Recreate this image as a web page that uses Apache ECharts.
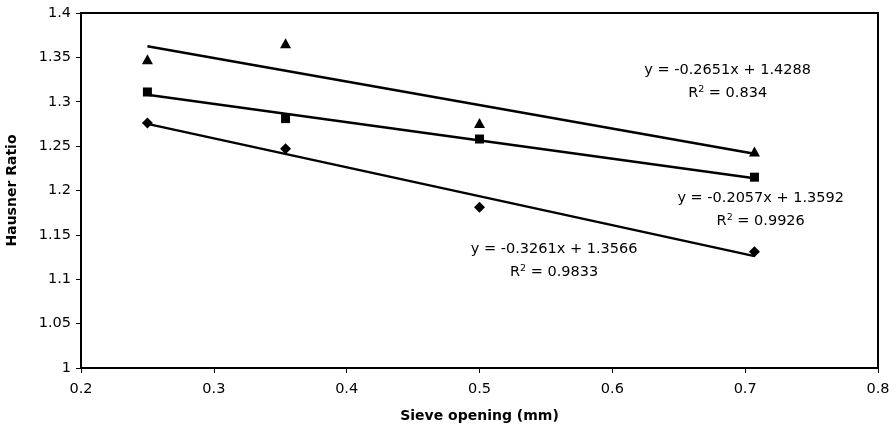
<!DOCTYPE html>
<html>
<head>
<meta charset="utf-8">
<script src="https://cdn.jsdelivr.net/npm/echarts@6/dist/echarts.min.js"></script>
<style>html,body{margin:0;padding:0;background:#fff;}#c{width:896px;height:433px;}</style>
</head>
<body>
<div id="c"></div>
<script>
// Data
var sieveOpenings = [0.25, 0.354, 0.5, 0.707];
var seriesTriangle = [1.348, 1.366, 1.276, 1.244];
var seriesSquare = [1.311, 1.281, 1.258, 1.215];
var seriesDiamond = [1.276, 1.247, 1.181, 1.131];
var trendSlopes = [-0.2651, -0.2057, -0.3261];
var trendIntercepts = [1.4288, 1.3592, 1.3566];
var trendR2 = ['0.834', '0.9926', '0.9833'];
var labelAnchorX = [0.6868, 0.7117, 0.5562];
var labelAnchorY = [1.322, 1.178, 1.121];
var xTicks = [0.2, 0.3, 0.4, 0.5, 0.6, 0.7, 0.8];
var yTicks = [1, 1.05, 1.1, 1.15, 1.2, 1.25, 1.3, 1.35, 1.4];

var FONT = 'DejaVu Sans';
function pts(vals) { return sieveOpenings.map(function (x, i) { return [x, vals[i]]; }); }
function trend(k) {
  var x0 = sieveOpenings[0], x1 = sieveOpenings[sieveOpenings.length - 1];
  return [[x0, trendSlopes[k] * x0 + trendIntercepts[k]], [x1, trendSlopes[k] * x1 + trendIntercepts[k]]];
}
function fmtNum(v) { return (v < 0 ? '-' : '') + Math.abs(v).toFixed(4); }
var labelData = labelAnchorX.map(function (x, k) {
  return { value: [x, labelAnchorY[k]], eq: 'y = ' + fmtNum(trendSlopes[k]) + 'x + ' + trendIntercepts[k].toFixed(4), r2: trendR2[k] };
});

var chart = echarts.init(document.getElementById('c'), null, { renderer: 'canvas' });
var lineStyle = { color: '#000', width: 2.5, opacity: 1 };
var markStyle = { color: '#000', opacity: 1 };
chart.setOption({
  animation: false,
  backgroundColor: '#fff',
  grid: { left: 81, right: 18, top: 13, bottom: 65, containLabel: false, outerBoundsMode: 'none', show: true, borderColor: '#000', borderWidth: 2, backgroundColor: 'transparent' },
  xAxis: {
    type: 'value', min: 0.2, max: 0.8, interval: 0.1,
    name: 'Sieve opening (mm)', nameLocation: 'middle', nameGap: 41,
    nameTextStyle: { fontFamily: FONT, fontWeight: 'bold', fontSize: 14, color: '#000' },
    axisLine: { show: true, lineStyle: { color: '#000', width: 2 } },
    axisTick: { show: true, inside: false, length: 5, lineStyle: { color: '#000', width: 1 } },
    axisLabel: { fontFamily: FONT, fontSize: 14.5, color: '#000', margin: 14, formatter: function (v) { return String(+v.toFixed(1)); } },
    splitLine: { show: false }
  },
  yAxis: {
    type: 'value', min: 1, max: 1.4, interval: 0.05,
    name: 'Hausner Ratio', nameLocation: 'middle', nameGap: 62, nameRotate: 90,
    nameTextStyle: { fontFamily: FONT, fontWeight: 'bold', fontSize: 14, color: '#000' },
    axisLine: { show: true, lineStyle: { color: '#000', width: 2 } },
    axisTick: { show: true, inside: false, length: 5, lineStyle: { color: '#000', width: 1 } },
    axisLabel: { fontFamily: FONT, fontSize: 14.5, color: '#000', margin: 10, formatter: function (v) { return String(+v.toFixed(2)); } },
    splitLine: { show: false }
  },
  series: [
    { type: 'line', data: trend(0), symbol: 'none', lineStyle: lineStyle, z: 2 },
    { type: 'line', data: trend(1), symbol: 'none', lineStyle: lineStyle, z: 2 },
    { type: 'line', data: trend(2), symbol: 'none', lineStyle: lineStyle, z: 2 },
    { type: 'scatter', data: pts(seriesTriangle), symbol: 'triangle', symbolSize: [11, 10], itemStyle: markStyle, z: 3 },
    { type: 'scatter', data: pts(seriesSquare), symbol: 'rect', symbolSize: 9, itemStyle: markStyle, z: 3 },
    { type: 'scatter', data: pts(seriesDiamond), symbol: 'diamond', symbolSize: 11, itemStyle: markStyle, z: 3 },
    {
      type: 'scatter', data: labelData, symbolSize: 0, z: 4, silent: true, itemStyle: markStyle,
      label: {
        show: true, position: 'inside', align: 'center', verticalAlign: 'middle',
        formatter: function (p) { return '{eq|' + p.data.eq + '}\n{eq|R}{sup|2}{eq| = ' + p.data.r2 + '}'; },
        rich: {
          eq: { fontFamily: FONT, fontSize: 14.5, color: '#000', lineHeight: 23 },
          sup: { fontFamily: FONT, fontSize: 9.5, color: '#000', lineHeight: 23, padding: [0, 0, 8, 0] }
        }
      }
    }
  ]
});
</script>
</body>
</html>
